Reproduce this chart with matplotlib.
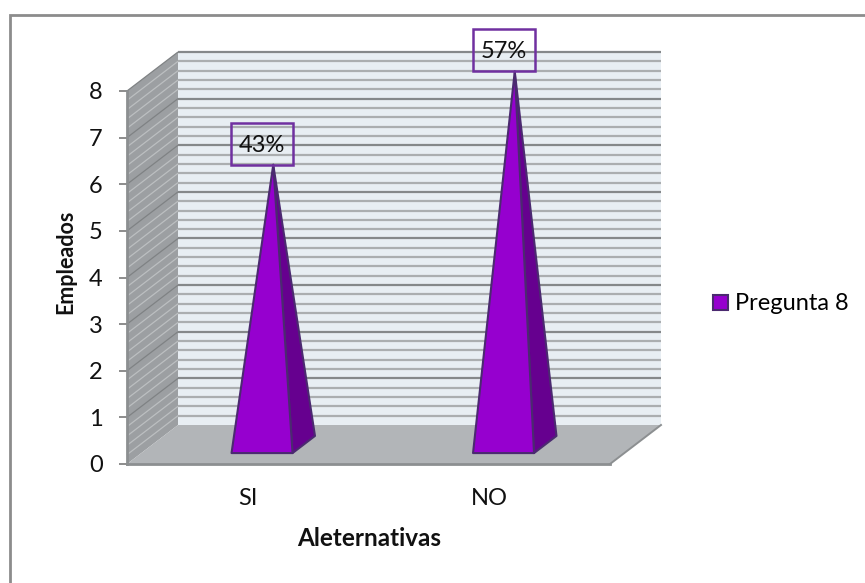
import matplotlib
matplotlib.use("Agg")
import matplotlib.pyplot as plt
from matplotlib.lines import Line2D
from matplotlib.patches import Polygon, Rectangle
import numpy as np

categories = ["SI", "NO"]
values = [6, 8]
percent_labels = ["43%", "57%"]
series_name = "Pregunta 8"
y_ticks = [0, 1, 2, 3, 4, 5, 6, 7, 8]
x_title = "Aleternativas"
y_title = "Empleados"

W, H = 865, 583
plt.rcParams["font.family"] = ["Lato", "DejaVu Sans"]

fig = plt.figure(figsize=(W / 100, H / 100), dpi=100, facecolor="white")

# outer chart frame: top and left edges only
fig.add_artist(Line2D([9.5 / W, 9.5 / W, 1], [0, 1 - 15 / H, 1 - 15 / H], transform=fig.transFigure,
                      color="#8c8c8c", linewidth=2.0, solid_joinstyle="miter"))

# front plane of the 3D box: x in category units, y in value units
L, R, B, T = 127, 610, 464, 91
ax = fig.add_axes([L / W, 1 - B / H, (R - L) / W, (B - T) / H], facecolor="none")
ax.set_xlim(0, 2)
ax.set_ylim(0, 8)

# depth vector of the box, expressed in data units
DX = 51 / (R - L) * 2
DY = 39 / (B - T) * 8


def proj(x, y, d):
    return (x + DX * d, y + DY * d)


def poly(points, **kw):
    ax.add_patch(Polygon([proj(*p) for p in points], closed=True, clip_on=False, **kw))


# back wall, side wall and floor
poly([(0, 0, 1), (2, 0, 1), (2, 8, 1), (0, 8, 1)], facecolor="#e8eef3", edgecolor="none", zorder=1)
poly([(0, 0, 0), (0, 0, 1), (0, 8, 1), (0, 8, 0)], facecolor="#9c9fa2", edgecolor="none", zorder=1)
poly([(0, 0, 0), (2, 0, 0), (2, 0, 1), (0, 0, 1)], facecolor="#b2b5b8", edgecolor="none", zorder=2)

# major and minor gridlines on both walls
for g in np.arange(0.2, 8.01, 0.2):
    major = abs(g - round(g)) < 1e-6
    wall_col = "#85888a" if major else "#abaeb0"
    side_col = "#7f8284" if major else "#bcbfc1"
    x0, y0 = proj(0, g, 1)
    x1, y1 = proj(2, g, 1)
    ax.plot([x0, x1], [y0, y1], color=wall_col, lw=1.6, clip_on=False, zorder=1.5,
            solid_capstyle="butt")
    xf, yf = proj(0, g, 0)
    ax.plot([xf, x0], [yf, y0], color=side_col, lw=0.9, clip_on=False, zorder=1.5,
            solid_capstyle="butt")

# floor edge on the right
xa, ya = proj(2, 0, 0)
xb, yb = proj(2, 0, 1)
ax.plot([xa, xb], [ya, yb], color="#8c8f91", lw=1.4, clip_on=False, zorder=2.5)

# one square pyramid per category, with a boxed percentage above the apex
half_w = 30.5 / (R - L) * 2
d_front, d_back = 0.28, 0.72
edge = "#4b2a70"
box_w = 62 / (R - L) * 2
box_h = 42 / (B - T) * 8
for i, (v, pct) in enumerate(zip(values, percent_labels)):
    c = i + 0.5
    apex = (c, v, 0.5)
    poly([(c + half_w, 0, d_front), (c + half_w, 0, d_back), apex],
         facecolor="#66008f", edgecolor=edge, lw=1.5, zorder=3, joinstyle="round")
    poly([(c - half_w, 0, d_front), (c + half_w, 0, d_front), apex],
         facecolor="#9600cf", edgecolor=edge, lw=1.5, zorder=4, joinstyle="round")
    bx = proj(c, v, d_front)[0]
    by = proj(*apex)[1]
    ax.add_patch(Rectangle((bx - box_w / 2, by), box_w, box_h, fill=False, edgecolor="#7030a0",
                           lw=1.8, clip_on=False, zorder=6))
    ax.text(bx, by + box_h * 0.47, pct, ha="center", va="center", fontsize=17, color="#111111",
            zorder=7, clip_on=False)

# axes furniture
ax.set_yticks(y_ticks)
ax.set_xticks([0.5, 1.5])
ax.set_xticklabels(categories)
ax.tick_params(axis="y", length=5.5, width=1.4, color="#8c8c8c", labelsize=17, pad=12,
               labelcolor="#111111")
ax.tick_params(axis="x", length=0, labelsize=17, pad=17, labelcolor="#111111")
for s in ("top", "right"):
    ax.spines[s].set_visible(False)
for s in ("left", "bottom"):
    ax.spines[s].set_color("#8c8f91")
    ax.spines[s].set_linewidth(2.0)
    ax.spines[s].set_zorder(5)

fig.text(369 / W, 1 - 539 / H, x_title, ha="center", va="center", fontsize=17.5, fontweight="bold",
         color="#111111")
fig.text(66 / W, 1 - 262 / H, y_title, ha="center", va="center", rotation=90, fontsize=15.5,
         fontweight="bold", color="#111111")

# legend
handle = Rectangle((0, 0), 1, 1, facecolor="#9600cf", edgecolor=edge, linewidth=1.5)
fig.legend([handle], [series_name], loc="center left", bbox_to_anchor=(713 / W, 1 - 304 / H),
           frameon=False, fontsize=17, handlelength=0.62, handleheight=0.62,
           handletextpad=0.3, borderpad=0, borderaxespad=0)

fig.savefig("out.png", dpi=100, facecolor="white")
